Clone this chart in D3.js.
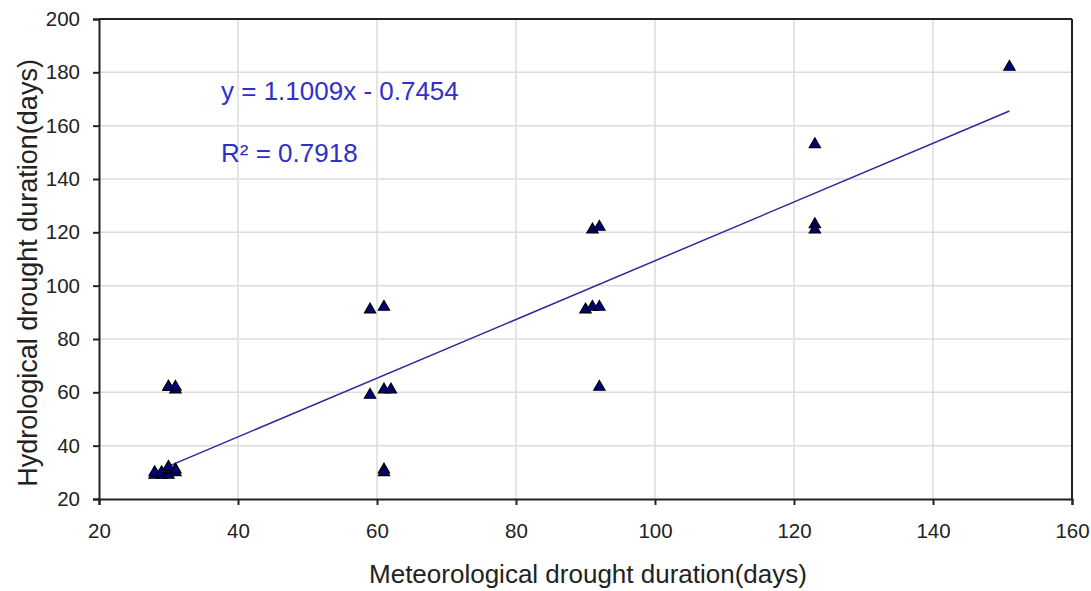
<!DOCTYPE html>
<html><head><meta charset="utf-8">
<script src="https://cdn.jsdelivr.net/npm/d3@7"></script>
<style>body{margin:0;background:#fff}svg{display:block}</style>
</head><body>
<svg id="c" width="1091" height="591"></svg>
<script>
const meteoDuration = [28,28,29,29,30,30,30,31,31,30,30,31,31, 59,61,59,61,62,61,61, 91,92,90,91,92,92, 123,123,123,151];
const hydroDuration = [29,30,29,30,29,31,32,30,31,62,62,61,62, 91,92,59,61,61,31,30, 121,122,91,92,92,62, 153,123,121,182];
const xTicks = [20,40,60,80,100,120,140,160];
const yTicks = [20,40,60,80,100,120,140,160,180,200];
const slope = 1.1009, intercept = -0.7454;
const eqLabel = "y = 1.1009x - 0.7454";
const r2Label = "R\u00b2 = 0.7918";
const xTitle = "Meteorological drought duration(days)";
const yTitle = "Hydrological drought duration(days)";

const svg = d3.select("#c");
const L = 99, R = 1072, T = 19, B = 499;
const x = d3.scaleLinear().domain([20,160]).range([L,R]);
const y = d3.scaleLinear().domain([20,200]).range([B,T]);
const font = "Liberation Sans, Arial, sans-serif";

// gridlines
svg.append("g").selectAll("line").data(xTicks.slice(1,-1)).join("line")
  .attr("x1",d=>x(d)).attr("x2",d=>x(d)).attr("y1",T).attr("y2",B)
  .attr("stroke","#dcdcdc").attr("stroke-width",1.5);
svg.append("g").selectAll("line").data(yTicks.slice(1,-1)).join("line")
  .attr("x1",L).attr("x2",R).attr("y1",d=>y(d)).attr("y2",d=>y(d))
  .attr("stroke","#dcdcdc").attr("stroke-width",1.5);

// frame (top and right)
svg.append("line").attr("x1",L).attr("x2",R).attr("y1",T).attr("y2",T).attr("stroke","#222").attr("stroke-width",2);
svg.append("line").attr("x1",R).attr("x2",R).attr("y1",T).attr("y2",B).attr("stroke","#222").attr("stroke-width",2);

// axes
const xa = svg.append("g").attr("transform",`translate(0,${B})`)
  .call(d3.axisBottom(x).tickValues(xTicks).tickSize(6).tickPadding(18).tickFormat(d3.format("d")));
const ya = svg.append("g").attr("transform",`translate(${L},0)`)
  .call(d3.axisLeft(y).tickValues(yTicks).tickSize(6).tickPadding(13).tickFormat(d3.format("d")));
[xa,ya].forEach(a=>{
  a.select(".domain").attr("stroke","#222").attr("stroke-width",2);
  a.selectAll(".tick line").attr("stroke","#222").attr("stroke-width",2);
  a.selectAll("text").attr("font-family",font).attr("font-size",20.5).attr("fill","#222");
});

// trend line
const xmin = d3.min(meteoDuration), xmax = d3.max(meteoDuration);
svg.append("line")
  .attr("x1",x(xmin)).attr("y1",y(slope*xmin+intercept))
  .attr("x2",x(xmax)).attr("y2",y(slope*xmax+intercept))
  .attr("stroke","#2a2a9a").attr("stroke-width",1.5);

// points
const tri = d3.symbol().type(d3.symbolTriangle).size(55);
svg.append("g").selectAll("path").data(meteoDuration.map((m,i)=>[m,hydroDuration[i]])).join("path")
  .attr("d",tri).attr("transform",d=>`translate(${x(d[0])},${y(d[1])})`)
  .attr("fill","#000080").attr("stroke","#000").attr("stroke-width",1.2);

// equation text
svg.append("text").attr("x",221).attr("y",100).attr("font-family",font).attr("font-size",26)
  .attr("fill","#3030c8").text(eqLabel);
svg.append("text").attr("x",221).attr("y",162).attr("font-family",font).attr("font-size",26)
  .attr("fill","#3030c8").text(r2Label);

// titles
svg.append("text").attr("x",588).attr("y",583).attr("text-anchor","middle")
  .attr("font-family",font).attr("font-size",26).attr("fill","#222").text(xTitle);
svg.append("text").attr("transform",`translate(37,273) rotate(-90)`).attr("text-anchor","middle")
  .attr("font-family",font).attr("font-size",27).attr("fill","#222").text(yTitle);
</script>
</body></html>
